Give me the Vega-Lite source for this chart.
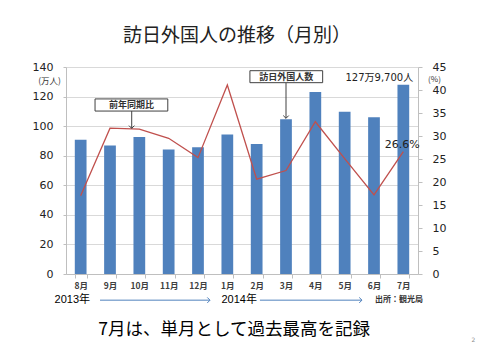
{
  "$schema": "https://vega.github.io/schema/vega-lite/v6.json",
  "width": 352,
  "height": 207,
  "autosize": "none",
  "padding": {"left": 66, "top": 67, "right": 62, "bottom": 86},
  "background": "white",
  "title": {"text": "訪日外国人の推移（月別）", "font": "Noto Sans CJK JP", "fontSize": 19, "fontWeight": "normal", "color": "#222222", "offset": 15, "anchor": "middle", "dx": -5},
  "config": {"view": {"stroke": null}},
  "datasets": {
    "monthly": [
      {"month": "8月", "visitors": 90.75, "rate": 17.0},
      {"month": "9月", "visitors": 86.91, "rate": 31.7},
      {"month": "10月", "visitors": 92.59, "rate": 31.5},
      {"month": "11月", "visitors": 84.21, "rate": 29.5},
      {"month": "12月", "visitors": 85.76, "rate": 25.3},
      {"month": "1月", "visitors": 94.39, "rate": 41.1},
      {"month": "2月", "visitors": 87.86, "rate": 20.6},
      {"month": "3月", "visitors": 104.70, "rate": 22.5},
      {"month": "4月", "visitors": 123.15, "rate": 33.1},
      {"month": "5月", "visitors": 109.70, "rate": 25.1},
      {"month": "6月", "visitors": 106.06, "rate": 17.2},
      {"month": "7月", "visitors": 127.97, "rate": 26.6}
    ],
    "callouts": [
      {"label": "前年同期比", "x": 0.99, "x2": 3.47, "y": 110.2, "y2": 118.4, "cx": 2.23, "cy": 114.3, "ax": 2.24, "tip": 98.5},
      {"label": "訪日外国人数", "x": 6.27, "x2": 8.75, "y": 129.4, "y2": 137.5, "cx": 7.51, "cy": 133.4, "ax": 7.5, "tip": 105.3}
    ],
    "years": [
      {"label": "2013年", "x": 0.82, "y": -17.7},
      {"label": "2014年", "x": 6.51, "y": -17.7}
    ],
    "arrows": [
      {"x": 1.16, "x2": 4.91, "y": -17.7},
      {"x": 6.61, "x2": 10.09, "y": -17.7}
    ],
    "source": [{"label": "出所：観光局", "x": 10.53, "y": -17.9}],
    "message": [{"label": "7月は、単月として過去最高を記録", "x": 5.73, "y": -37.9}],
    "page": [{"label": "2", "x": 13.89, "y": -44.6}]
  },
  "layer": [
    {
      "data": {"name": "monthly"},
      "encoding": {
        "x": {
          "field": "month", "type": "ordinal",
          "sort": ["8月", "9月", "10月", "11月", "12月", "1月", "2月", "3月", "4月", "5月", "6月", "7月"],
          "scale": {"type": "band", "paddingInner": 0.6, "paddingOuter": 0.3},
          "axis": {"title": null, "labelAngle": 0, "tickBand": "extent", "domainColor": "#bfbfbf", "tickColor": "#bfbfbf", "tickSize": 4, "labelPadding": 3, "labelFont": "Noto Sans CJK JP", "labelFontSize": 8.5, "labelFontWeight": "bold", "labelColor": "#404040"}
        },
        "y": {
          "field": "visitors", "type": "quantitative",
          "scale": {"domain": [0, 140], "nice": false},
          "axis": {"orient": "left", "values": [0, 20, 40, 60, 80, 100, 120, 140], "grid": true, "gridColor": "#d9d9d9", "domainColor": "#bfbfbf", "tickColor": "#bfbfbf", "tickSize": 3, "labelPadding": 10, "labelFont": "DejaVu Sans", "labelFontSize": 11, "labelColor": "#222222", "title": "(万人)", "titleAngle": 0, "titleX": -17, "titleY": 13, "titleAlign": "center", "titleBaseline": "middle", "titleFont": "Noto Sans CJK JP", "titleFontSize": 8.5, "titleFontWeight": "normal", "titleColor": "#333333"}
        }
      },
      "layer": [
        {"mark": {"type": "bar", "color": "#4F81BD"}},
        {
          "transform": [{"filter": "datum.month === '7月'"}],
          "mark": {"type": "text", "font": "DejaVu Sans, Noto Sans CJK JP", "fontSize": 10, "color": "#222222", "dx": -24, "dy": -7, "baseline": "middle", "align": "center"},
          "encoding": {"text": {"value": "127万9,700人"}}
        }
      ]
    },
    {
      "data": {"name": "monthly"},
      "encoding": {
        "x": {
          "field": "month", "type": "ordinal",
          "sort": ["8月", "9月", "10月", "11月", "12月", "1月", "2月", "3月", "4月", "5月", "6月", "7月"],
          "scale": {"type": "point", "padding": 0.5},
          "axis": null
        },
        "y": {
          "field": "rate", "type": "quantitative",
          "scale": {"domain": [0, 45], "nice": false},
          "axis": {"orient": "right", "values": [0, 5, 10, 15, 20, 25, 30, 35, 40, 45], "grid": false, "domainColor": "#bfbfbf", "tickColor": "#bfbfbf", "tickSize": 4, "labelPadding": 10, "labelFont": "DejaVu Sans", "labelFontSize": 11, "labelColor": "#222222", "title": "(%)", "titleAngle": 0, "titleX": 16, "titleY": 12, "titleAlign": "center", "titleBaseline": "middle", "titleFont": "Noto Sans CJK JP", "titleFontSize": 8, "titleFontWeight": "normal", "titleColor": "#333333"}
        }
      },
      "layer": [
        {"mark": {"type": "line", "color": "#C0504D", "strokeWidth": 1.3}},
        {
          "transform": [{"filter": "datum.month === '7月'"}, {"calculate": "format(datum.rate, '.1f') + '%'", "as": "rateLabel"}],
          "mark": {"type": "text", "font": "DejaVu Sans", "fontSize": 11, "color": "#222222", "dx": -1, "dy": -7, "baseline": "middle", "align": "center"},
          "encoding": {"text": {"field": "rateLabel"}}
        }
      ]
    },
    {
      "encoding": {
        "x": {"field": "x", "type": "quantitative", "scale": {"domain": [0, 12], "nice": false, "zero": false}, "axis": null},
        "y": {"field": "y", "type": "quantitative", "scale": {"domain": [0, 140], "nice": false}, "axis": null}
      },
      "layer": [
        {
          "data": {"name": "callouts"},
          "mark": {"type": "rule", "color": "#404040", "strokeWidth": 1},
          "encoding": {"x": {"field": "ax", "type": "quantitative"}, "y2": {"field": "tip"}}
        },
        {
          "data": {"name": "callouts"},
          "mark": {"type": "point", "shape": "M-1,-1L0,0L1,-1", "filled": false, "stroke": "#404040", "strokeWidth": 1, "size": 30, "opacity": 1},
          "encoding": {"x": {"field": "ax", "type": "quantitative"}, "y": {"field": "tip", "type": "quantitative"}}
        },
        {
          "data": {"name": "callouts"},
          "mark": {"type": "rect", "fill": "white", "stroke": "#404040", "strokeWidth": 1},
          "encoding": {"x2": {"field": "x2"}, "y2": {"field": "y2"}}
        },
        {
          "data": {"name": "callouts"},
          "mark": {"type": "text", "font": "Noto Sans CJK JP", "fontSize": 9, "fontWeight": "bold", "color": "#333333", "baseline": "middle", "align": "center"},
          "encoding": {"x": {"field": "cx", "type": "quantitative"}, "y": {"field": "cy", "type": "quantitative"}, "text": {"field": "label"}}
        },
        {
          "data": {"name": "arrows"},
          "mark": {"type": "rule", "color": "#4F81BD", "strokeWidth": 1},
          "encoding": {"x2": {"field": "x2"}}
        },
        {
          "data": {"name": "arrows"},
          "mark": {"type": "point", "shape": "M-1,-1L0,0L-1,1", "filled": false, "stroke": "#4F81BD", "strokeWidth": 1, "size": 30, "opacity": 1},
          "encoding": {"x": {"field": "x2", "type": "quantitative"}}
        },
        {
          "data": {"name": "years"},
          "mark": {"type": "text", "font": "Liberation Sans, Noto Sans CJK JP", "fontSize": 11, "color": "#000000", "baseline": "middle", "align": "right"},
          "encoding": {"text": {"field": "label"}}
        },
        {
          "data": {"name": "source"},
          "mark": {"type": "text", "font": "Noto Sans CJK JP", "fontSize": 8, "fontWeight": "bold", "color": "#333333", "baseline": "middle", "align": "left"},
          "encoding": {"text": {"field": "label"}}
        },
        {
          "data": {"name": "message"},
          "mark": {"type": "text", "font": "Noto Sans CJK JP", "fontSize": 17.5, "color": "#000000", "baseline": "middle", "align": "center"},
          "encoding": {"text": {"field": "label"}}
        },
        {
          "data": {"name": "page"},
          "mark": {"type": "text", "font": "DejaVu Sans", "fontSize": 6, "color": "#8c8c8c", "baseline": "middle", "align": "center"},
          "encoding": {"text": {"field": "label"}}
        }
      ]
    }
  ],
  "resolve": {"scale": {"x": "independent", "y": "independent"}}
}
